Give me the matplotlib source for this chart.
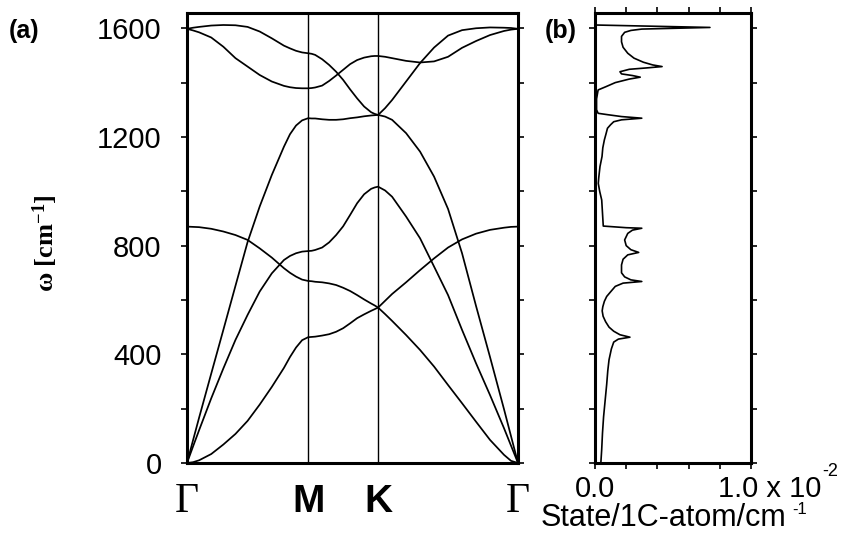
import numpy as np
import matplotlib
matplotlib.use("Agg")
import matplotlib.pyplot as plt
from matplotlib.ticker import MultipleLocator, NullFormatter, FixedLocator
from matplotlib.transforms import blended_transform_factory

plt.rcParams['font.family'] = ['Liberation Sans', 'DejaVu Sans']
plt.rcParams['mathtext.fontset'] = 'custom'
plt.rcParams['mathtext.rm'] = 'Liberation Serif:bold'
plt.rcParams['mathtext.it'] = 'Liberation Serif:bold'
plt.rcParams['mathtext.bf'] = 'Liberation Serif:bold'

# ---- phonon dispersion of a graphene sheet along Gamma-M-K-Gamma ----
# segment lengths in units of 2*pi/a
seg_len = [1 / np.sqrt(3), 1 / 3, 2 / 3]
point_labels = ['Γ', 'M', 'K', 'Γ']

# positions (fraction of each segment) where frequencies were read
frac_gm = [0, .05, .1, .2, .3, .4, .5, .6, .7, .8, .85, .9, .95, 1]
frac_mk = [0, .05, .1, .2, .3, .4, .5, .6, .7, .8, .9, .95, 1]
frac_kg = [0, .05, .1, .2, .3, .4, .5, .6, .7, .8, .9, .95, 1]

# frequencies [cm^-1] on Gamma-M, M-K and K-Gamma
za_gm = [0, 3, 10, 33, 68, 107, 155, 215, 280, 350, 390, 425, 452, 463]
za_mk = [463, 464, 465, 469, 474, 483, 496, 514, 533, 547, 560, 566, 572]
za_kg = [572, 548, 523, 471, 416, 355, 287, 220, 152, 85, 30, 8, 0]

zo_gm = [870, 869, 868, 862, 852, 839, 821, 790, 756, 717, 700, 686, 675, 670]
zo_mk = [670, 669, 667, 665, 661, 655, 645, 633, 618, 602, 587, 580, 572]
zo_kg = [572, 597, 622, 665, 710, 753, 793, 823, 844, 858, 866, 869, 870]

ta_gm = [0, 61, 121, 238, 348, 453, 545, 631, 698, 747, 762, 772, 778, 780]
ta_mk = [780, 781, 784, 793, 812, 839, 871, 913, 956, 989, 1009, 1014, 1017]
ta_kg = [1017, 1003, 980, 907, 827, 723, 618, 490, 367, 250, 128, 64, 0]

la_gm = [0, 84, 167, 329, 490, 652, 813, 944, 1060, 1164, 1210, 1242, 1261, 1269]
la_mk = [1269, 1268, 1268, 1265, 1263, 1263, 1265, 1269, 1272, 1276, 1279, 1280, 1281]
la_kg = [1281, 1275, 1263, 1214, 1146, 1054, 935, 772, 578, 390, 198, 99, 0]

o1_gm = [1598, 1602, 1605, 1610, 1612, 1611, 1605, 1588, 1563, 1536, 1526, 1517, 1511, 1508]
o1_mk = [1508, 1506, 1502, 1486, 1465, 1440, 1410, 1375, 1342, 1312, 1291, 1285, 1281]
o1_kg = [1281, 1306, 1336, 1404, 1472, 1529, 1573, 1593, 1600, 1603, 1602, 1601, 1598]

o2_gm = [1598, 1592, 1585, 1566, 1532, 1490, 1459, 1428, 1404, 1388, 1383, 1380, 1379, 1379]
o2_mk = [1379, 1380, 1382, 1389, 1406, 1426, 1447, 1468, 1483, 1492, 1497, 1498, 1498]
o2_kg = [1498, 1495, 1490, 1480, 1474, 1478, 1495, 1528, 1553, 1575, 1590, 1595, 1598]

branches = [(za_gm, za_mk, za_kg), (zo_gm, zo_mk, zo_kg), (ta_gm, ta_mk, ta_kg),
            (la_gm, la_mk, la_kg), (o1_gm, o1_mk, o1_kg), (o2_gm, o2_mk, o2_kg)]

# ---- phonon density of states ----
dos_freq = [1612, 1603, 1597, 1592, 1585, 1570, 1550, 1530, 1508, 1490, 1475,
            1465, 1459, 1454, 1449, 1440, 1432, 1426, 1420, 1413, 1400, 1385,
            1373, 1340, 1300, 1287, 1282, 1275, 1269, 1263, 1256, 1245, 1232,
            1210, 1189, 1160, 1128, 1091, 1050, 1029, 1000, 968, 920, 872, 866,
            864, 857, 845, 821, 800, 785, 775, 766, 750, 729, 700, 685, 674,
            668, 662, 650, 630, 613, 595, 575, 560, 540, 520, 500, 485, 472,
            463, 456, 445, 420, 380, 340, 290, 230, 170, 110, 50, 5]
dos_value = [0.0, 0.737, 0.30, 0.23, 0.19, 0.17, 0.17, 0.18, 0.21, 0.25, 0.31,
             0.37, 0.43, 0.33, 0.22, 0.16, 0.17, 0.24, 0.29, 0.22, 0.13, 0.07,
             0.02, 0.01, 0.01, 0.02, 0.08, 0.17, 0.30, 0.17, 0.12, 0.10, 0.08,
             0.07, 0.06, 0.05, 0.045, 0.032, 0.024, 0.021, 0.03, 0.043, 0.048,
             0.053, 0.20, 0.30, 0.24, 0.21, 0.19, 0.20, 0.23, 0.28, 0.21, 0.18,
             0.17, 0.17, 0.19, 0.23, 0.30, 0.18, 0.13, 0.10, 0.075, 0.06, 0.05,
             0.046, 0.052, 0.068, 0.09, 0.12, 0.16, 0.224, 0.15, 0.12, 0.105,
             0.09, 0.082, 0.075, 0.065, 0.055, 0.048, 0.043, 0.038]

y_ticks = [0, 400, 800, 1200, 1600]
y_max = 1658

# ---- k-path coordinates ----
nodes = np.concatenate([[0], np.cumsum(seg_len)])
k_path = np.concatenate([nodes[i] + np.asarray(f) * seg_len[i]
                         for i, f in enumerate([frac_gm, frac_mk, frac_kg])])

W, H = 848, 547
fig = plt.figure(figsize=(W / 100, H / 100), dpi=100)
fig.patch.set_facecolor('white')


def px_rect(x0, y0, x1, y1):
    return [x0 / W, 1 - y1 / H, (x1 - x0) / W, (y1 - y0) / H]


ax_a = fig.add_axes(px_rect(187, 12.5, 518, 463))
ax_b = fig.add_axes(px_rect(595, 12.5, 751, 463))

spine_w = 2.2
tick_len = 4.3

# panel (a)
for segs in branches:
    omega = np.concatenate(segs)
    ax_a.plot(k_path, omega, color='black', lw=1.25, solid_joinstyle='round')
for xk in nodes[1:3]:
    ax_a.axvline(xk, color='black', lw=1.0)
ax_a.set_xlim(nodes[0], nodes[-1])
ax_a.set_ylim(0, y_max)
ax_a.yaxis.set_major_locator(FixedLocator(y_ticks))
ax_a.yaxis.set_minor_locator(MultipleLocator(200))
ax_a.set_yticklabels([str(v) for v in y_ticks])
ax_a.tick_params(axis='y', which='both', direction='out', length=tick_len,
                 width=1.2, left=True, right=True, labelsize=21, pad=14)
ax_a.set_xticks([])
for s in ax_a.spines.values():
    s.set_linewidth(spine_w)

trans_a = blended_transform_factory(ax_a.transData, ax_a.transAxes)
base_a = (463 - 512) / 450.5
for xk, lab in zip(nodes, point_labels):
    if lab == 'Γ':
        ax_a.text(xk, base_a, lab, transform=trans_a, ha='center', va='baseline',
                  fontsize=30, family='Liberation Serif')
    else:
        ax_a.text(xk, base_a, lab, transform=trans_a, ha='center', va='baseline',
                  fontsize=28, fontweight='bold')

fig.text(45 / W, 1 - 243 / H, r'$\omega$ [cm$^{-1}$]', rotation=90,
         ha='center', va='center', fontsize=19, family='Liberation Serif',
         fontweight='bold')
fig.text(24 / W, 1 - 31 / H, '(a)', ha='center', va='center', fontsize=18,
         fontweight='bold')

# panel (b)
ax_b.plot(dos_value, dos_freq, color='black', lw=1.2)
ax_b.set_xlim(0, 1.0)
ax_b.set_ylim(0, y_max)
ax_b.xaxis.set_major_locator(MultipleLocator(0.2))
ax_b.yaxis.set_major_locator(MultipleLocator(200))
ax_b.xaxis.set_major_formatter(NullFormatter())
ax_b.yaxis.set_major_formatter(NullFormatter())
ax_b.tick_params(axis='both', which='both', direction='out', length=tick_len,
                 width=1.2, left=True, right=True, top=True, bottom=True)
for s in ax_b.spines.values():
    s.set_linewidth(spine_w)

trans_b = blended_transform_factory(ax_b.transData, ax_b.transAxes)
ax_b.text(0.0, (463 - 497) / 450.5, '0.0', transform=trans_b, ha='center',
          va='baseline', fontsize=21)
fig.text(718 / W, 1 - 497 / H, '1.0 x 10', ha='left', va='baseline', fontsize=21)
fig.text(822 / W, 1 - 476 / H, '-2', ha='left', va='baseline', fontsize=13)
fig.text(541 / W, 1 - 526 / H, 'State/1C-atom/cm', ha='left', va='baseline',
         fontsize=22)
fig.text(792 / W, 1 - 514 / H, '-1', ha='left', va='baseline', fontsize=12)
fig.text(561 / W, 1 - 31 / H, '(b)', ha='center', va='center', fontsize=18,
         fontweight='bold')

fig.savefig('out.png', dpi=100, facecolor='white')
